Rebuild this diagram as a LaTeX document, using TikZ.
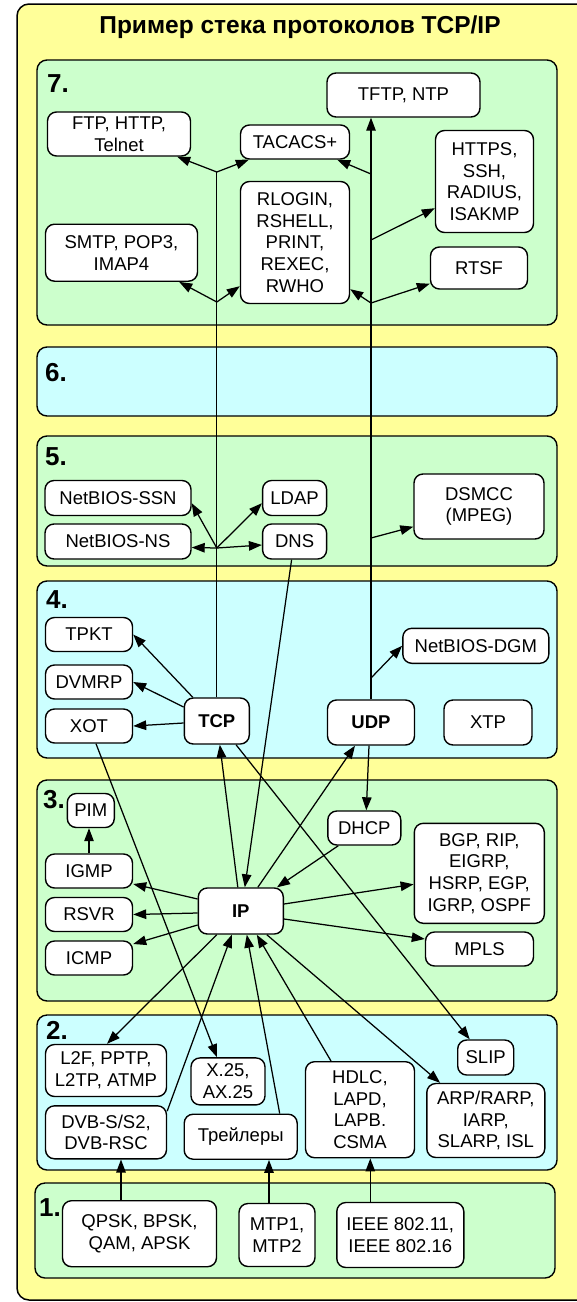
\documentclass[tikz,border=0pt]{standalone}
\usepackage{fontspec}
\setmainfont{Liberation Sans}
\usetikzlibrary{arrows.meta}
\definecolor{fonjel}{HTML}{FFFF99}
\definecolor{sloizel}{HTML}{CCFFCC}
\definecolor{sloigol}{HTML}{CCFFFF}
\begin{document}
\begin{tikzpicture}[x=1pt,y=-1pt,
  sloi/.style={draw,line width=1.4pt,rounded corners=10pt},
  prot/.style 2 args={draw,fill=white,line width=1.4pt,rounded corners=9pt,align=center,inner sep=0pt,
    minimum width=#1,minimum height=#2,font=\fontsize{18.5}{21.7}\selectfont},
  glav/.style={font=\fontsize{18.5}{21.7}\selectfont\bfseries},
  nomer/.style={anchor=base west,inner sep=0pt,font=\fontsize{26}{26}\selectfont\bfseries},
  liniya/.style={line width=1.25pt},
  strel/.style={line width=1.25pt,-{Triangle[length=13pt,width=9.5pt]}}]
        \useasboundingbox (0,0) rectangle (577,1302);
        \draw[line width=1.5pt,fill=fonjel,rounded corners=12pt] (17,4) rectangle (610,1300);
        \node[anchor=base,font=\fontsize{24.5}{24.5}\selectfont\bfseries] (zag) at (300,33) {Пример стека протоколов TCP/IP};
        \draw[sloi,fill=sloizel] (37,60) rectangle (557,325);
        \draw[sloi,fill=sloigol] (37,347) rectangle (557,416);
        \draw[sloi,fill=sloizel] (37,436) rectangle (557,566);
        \draw[sloi,fill=sloigol] (37,581) rectangle (557,758);
        \draw[sloi,fill=sloizel] (37,780) rectangle (557,1001);
        \draw[sloi,fill=sloigol] (37,1015) rectangle (557,1170);
        \draw[sloi,fill=sloizel] (35,1183) rectangle (555,1278);
        \node[nomer] (n7) at (47,92) {7.};
        \node[nomer] (n6) at (45,381) {6.};
        \node[nomer] (n5) at (45,465) {5.};
        \node[nomer] (n4) at (46,608) {4.};
        \node[nomer] (n3) at (43,808) {3.};
        \node[nomer] (n2) at (46,1039) {2.};
        \node[nomer] (n1) at (39,1216) {1.};
        % 7
        \node[prot={153}{44}] (tftp) at (403.5,95) {TFTP, NTP};
        \node[prot={143}{44}] (ftp) at (119,134) {FTP, HTTP,\\Telnet};
        \node[prot={109}{34}] (tacacs) at (295,142) {TACACS+};
        \node[prot={98}{102}] (https) at (484.5,181.5) {HTTPS,\\SSH,\\RADIUS,\\ISAKMP};
        \node[prot={109}{122}] (rlogin) at (295,242.5) {RLOGIN,\\RSHELL,\\PRINT,\\REXEC,\\RWHO};
        \node[prot={152}{57}] (smtp) at (121.5,252.7) {SMTP, POP3,\\IMAP4};
        \node[prot={97}{42}] (rtsf) at (479,268) {RTSF};
        % 5
        \node[prot={146}{35}] (ssn) at (118,498) {NetBIOS-SSN};
        \node[prot={146}{35}] (ns) at (118,541.5) {NetBIOS-NS};
        \node[prot={64}{35}] (ldap) at (294.6,498) {LDAP};
        \node[prot={64}{35}] (dns) at (294.6,541.5) {DNS};
        \node[prot={130}{65}] (dsmcc) at (479,506.5) {DSMCC\\(MPEG)};
        % 4
        \node[prot={87}{34}] (tpkt) at (89,634.5) {TPKT};
        \node[prot={87}{34}] (dvmrp) at (89,682) {DVMRP};
        \node[prot={87}{34}] (xot) at (89,726) {XOT};
        \node[prot={65}{46},glav] (tcp) at (216.8,721) {TCP};
        \node[prot={146}{35}] (dgm) at (475.8,645.8) {NetBIOS-DGM};
        \node[prot={87}{45},glav] (udp) at (371,722.5) {UDP};
        \node[prot={88}{45}] (xtp) at (488,722.5) {XTP};
        % 3
        \node[prot={47}{34}] (pim) at (90.8,810.5) {PIM};
        \node[prot={87}{34}] (igmp) at (89,871) {IGMP};
        \node[prot={87}{34}] (rsvr) at (89,914.5) {RSVR};
        \node[prot={87}{34}] (icmp) at (89,958) {ICMP};
        \node[prot={85}{46},glav] (ip) at (240.8,911) {IP};
        \node[prot={73}{34}] (dhcp) at (364.3,828) {DHCP};
        \node[prot={130}{100}] (bgp) at (479.3,873.3) {BGP, RIP,\\EIGRP,\\HSRP, EGP,\\IGRP, OSPF};
        \node[prot={108}{34}] (mpls) at (479.5,949) {MPLS};
        % 2
        \node[prot={121}{52}] (l2f) at (106,1070.5) {L2F, PPTP,\\L2TP, ATMP};
        \node[prot={121}{53}] (dvb) at (106,1132.3) {DVB-S/S2,\\DVB-RSC};
        \node[prot={74}{47}] (x25) at (228,1081.4) {X.25,\\AX.25};
        \node[prot={113}{45}] (trail) at (240.7,1136.7) {Трейлеры};
        \node[prot={109}{96}] (hdlc) at (360,1109.7) {HDLC,\\LAPD,\\LAPB.\\CSMA};
        \node[prot={56}{35}] (slip) at (485.7,1057.5) {SLIP};
        \node[prot={118}{74}] (arp) at (485.8,1120.5) {ARP/RARP,\\IARP,\\SLARP, ISL};
        % 1
        \node[prot={154}{66}] (qpsk) at (139.5,1233.7) {QPSK, BPSK,\\QAM, APSK};
        \node[prot={76}{63}] (mtp) at (277,1235) {MTP1,\\MTP2};
        \node[prot={127}{65}] (ieee) at (400.3,1235) {IEEE 802.11,\\IEEE 802.16};
        % uzly
        \coordinate (t7a) at (tcp.north |- 0,172);
        \coordinate (t7b) at (tcp.north |- 0,302);
        \coordinate (t5) at (tcp.north |- 0,548);
        \coordinate (u7a) at (udp.north |- 0,174);
        \coordinate (u7b) at (udp.north |- 0,240);
        \coordinate (u7c) at (udp.north |- 0,303);
        \coordinate (u5) at (udp.north |- 0,538);
        \coordinate (u4) at (udp.north |- 0,678);
        \coordinate (q1) at ([xshift=-18.5]qpsk.north);
        \coordinate (m1) at ([xshift=-8]mtp.north);
        \coordinate (e1) at ([xshift=-30]ieee.north);
        \draw[liniya] (tcp.north) -- (t7a);
        \draw[strel] (udp.north) -- (udp.north |- tftp.south);
        \draw[strel] (t7a) -- ([xshift=-14]ftp.south east);
        \draw[strel] (t7a) -- ([xshift=9]tacacs.south west);
        \draw[strel] (t7b) -- ([xshift=-19]smtp.south east);
        \draw[strel] (t7b) -- ([yshift=18]rlogin.south west);
        \draw[strel] (u7a) -- ([xshift=-13]tacacs.south east);
        \draw[strel] (u7b) -- ([yshift=25]https.south west);
        \draw[strel] (u7c) -- ([yshift=15]rlogin.south east);
        \draw[strel] (u7c) -- ([yshift=6]rtsf.south west);
        \draw[strel] (t5) -- ([yshift=13]ssn.south east);
        \draw[strel] (t5) -- ([yshift=-6]ns.east);
        \draw[strel] (t5) -- ([yshift=13]ldap.south west);
        \draw[strel] (t5) -- ([yshift=-3.5]dns.west);
        \draw[strel] (u5) -- ([yshift=13]dsmcc.south west);
        \draw[strel] ([xshift=-3]dns.south) -- ([xshift=4]ip.north);
        \draw[strel] ([xshift=-24]tcp.north) -- (tpkt.east);
        \draw[strel] ([yshift=14]tcp.west) -- (dvmrp.east);
        \draw[strel] ([yshift=-2]tcp.west) -- (xot.east);
        \draw[strel] (u4) -- (dgm.west);
        \draw[strel] ([xshift=7]xot.south) -- ([xshift=-11]x25.north);
        \draw[strel] ([xshift=-3]ip.north) -- ([xshift=3]tcp.south);
        \draw[strel] ([xshift=17]ip.north) -- ([xshift=-16]udp.south);
        \draw[strel] ([xshift=-2]udp.south) -- ([xshift=2]dhcp.north);
        \draw[strel] ([xshift=-14]tcp.south east) -- ([xshift=-16]slip.north);
        \draw[strel] (igmp.north) -- (igmp.north |- pim.south);
        \draw[strel] ([xshift=-26]dhcp.south) -- ([xshift=-7]ip.north east);
        \draw[strel] ([yshift=12]ip.west) -- ([yshift=-13]igmp.east);
        \draw[strel] ([yshift=-2]ip.west) -- (rsvr.east);
        \draw[strel] ([yshift=-14]ip.west) -- ([yshift=14]icmp.east);
        \draw[strel] ([yshift=7]ip.east) -- ([yshift=-11]bgp.west);
        \draw[strel] ([yshift=-8]ip.east) -- ([yshift=10]mpls.west);
        \draw[strel] ([xshift=-24]ip.south) -- ([xshift=1]l2f.north);
        \draw[strel] ([yshift=-6]dvb.north east) -- ([xshift=-9]ip.south);
        \draw[strel] ([xshift=39]trail.north) -- ([xshift=6]ip.south);
        \draw[strel] ([xshift=-29]hdlc.north) -- ([xshift=16]ip.south);
        \draw[strel] ([xshift=26]ip.south) -- ([xshift=14]arp.north west);
        \draw[strel] (q1) -- (q1 |- dvb.south);
        \draw[strel] (m1) -- (m1 |- trail.south);
        \draw[strel] (e1) -- (e1 |- hdlc.south);
\end{tikzpicture}
\end{document}
